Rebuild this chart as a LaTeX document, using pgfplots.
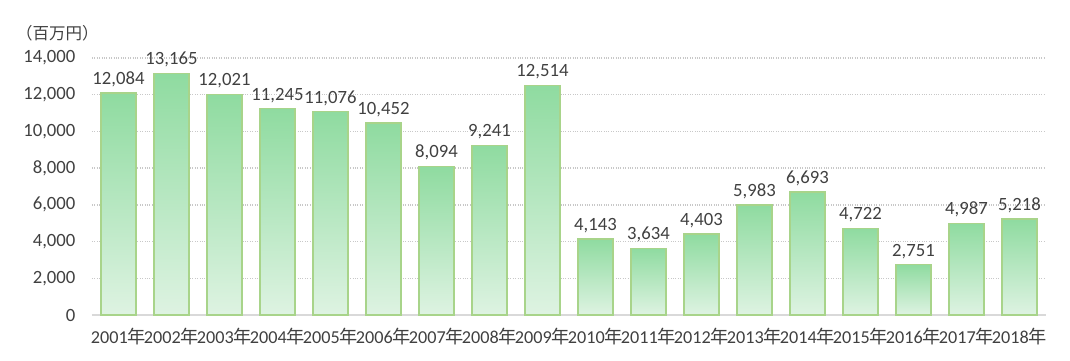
\documentclass[border=0pt]{standalone}
\usepackage{pgfplots}
\pgfplotsset{compat=1.18}
\usepackage{fontspec}
\setmainfont{Carlito}
\newfontfamily\cjk{Noto Sans CJK JP}
\definecolor{bartop}{RGB}{143,219,160}
\definecolor{barbot}{RGB}{222,243,226}
\definecolor{barline}{RGB}{168,212,138}
\definecolor{txt}{RGB}{64,64,64}
\definecolor{gridc}{RGB}{200,200,200}
\definecolor{basec}{RGB}{217,217,217}
\pgfplotsset{gbar/.style={ybar, bar width=35bp, bar shift=0pt, draw=barline, line width=1.5bp,
  top color=bartop, bottom color=barbot,
  nodes near coords,
  every node near coord/.append style={font=\fontsize{18.7bp}{21bp}\selectfont, text=txt, yshift=2bp}}}
\begin{document}
\begin{tikzpicture}
\begin{axis}[
  at={(0,0)}, anchor=south west,
  scale only axis, width=954bp, height=257bp,
  xmin=-0.5, xmax=17.5, ymin=0, ymax=14000,
  ytick={0,2000,...,14000},
  xtick={0,...,17},
  xticklabels={2001{\cjk 年},2002{\cjk 年},2003{\cjk 年},2004{\cjk 年},2005{\cjk 年},2006{\cjk 年},2007{\cjk 年},2008{\cjk 年},2009{\cjk 年},2010{\cjk 年},2011{\cjk 年},2012{\cjk 年},2013{\cjk 年},2014{\cjk 年},2015{\cjk 年},2016{\cjk 年},2017{\cjk 年},2018{\cjk 年}},
  axis lines=left, axis line style={-},
  x axis line style={basec, line width=1.2bp},
  y axis line style={draw=none},
  tick style={draw=none},
  ymajorgrids, major grid style={gridc, dotted, line width=1.5bp},
  /pgf/number format/assume math mode=true,
  /pgf/number format/1000 sep={,},
  scaled y ticks=false,
  yticklabel style={font=\fontsize{18.7bp}{21bp}\selectfont, text=txt, xshift=-11bp},
  xticklabel style={font=\fontsize{18.2bp}{20bp}\selectfont, text=txt, yshift=-11bp, inner sep=0pt},
]
\addplot[gbar] coordinates {(0,12084)};
\addplot[gbar] coordinates {(1,13165)};
\addplot[gbar] coordinates {(2,12021)};
\addplot[gbar] coordinates {(3,11245)};
\addplot[gbar] coordinates {(4,11076)};
\addplot[gbar] coordinates {(5,10452)};
\addplot[gbar] coordinates {(6,8094)};
\addplot[gbar] coordinates {(7,9241)};
\addplot[gbar] coordinates {(8,12514)};
\addplot[gbar] coordinates {(9,4143)};
\addplot[gbar] coordinates {(10,3634)};
\addplot[gbar] coordinates {(11,4403)};
\addplot[gbar] coordinates {(12,5983)};
\addplot[gbar] coordinates {(13,6693)};
\addplot[gbar] coordinates {(14,4722)};
\addplot[gbar] coordinates {(15,2751)};
\addplot[gbar] coordinates {(16,4987)};
\addplot[gbar] coordinates {(17,5218)};
\end{axis}
\node[anchor=west, text=txt, font=\cjk\fontsize{16.5bp}{18bp}\selectfont, inner sep=0pt] at (-76bp,282bp) {（百万円）};
\pgfresetboundingbox
\path (-92bp,-46bp) rectangle (978bp,315bp);
\end{tikzpicture}
\end{document}
